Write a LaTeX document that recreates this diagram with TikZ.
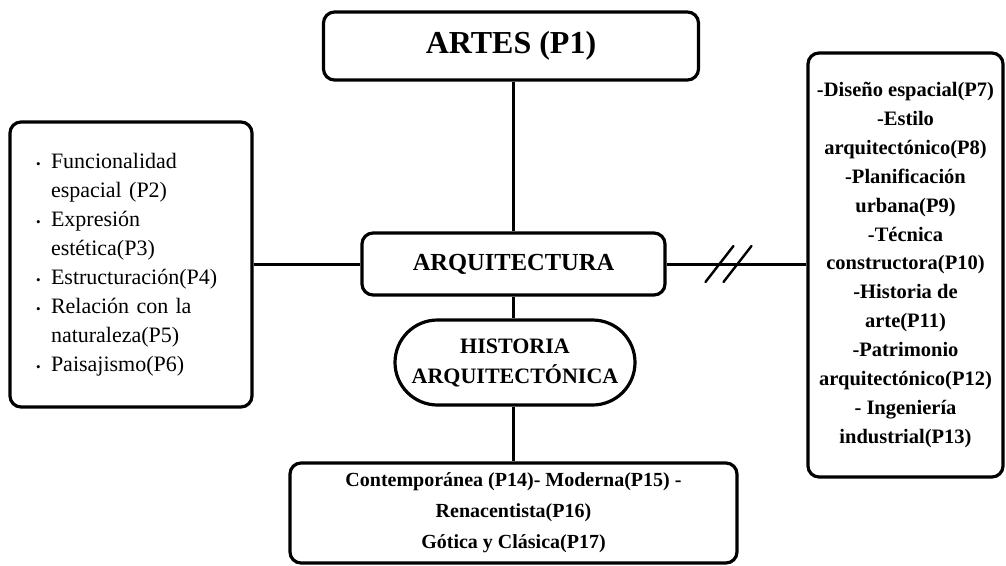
\documentclass[tikz,border=0pt]{standalone}
\usepackage{fontspec}
\setmainfont{Liberation Serif}
\usetikzlibrary{shapes.misc,calc}
\tikzset{
  box/.style={draw=black, line width=3.2pt, rounded corners=11pt, inner sep=0pt, align=center},
  conn/.style={draw=black, line width=3pt},
  slash/.style={draw=black, line width=2.4pt, line cap=round},
}
\newcommand{\bul}{\makebox[15pt][l]{\fontsize{13}{13}\selectfont •}}
\begin{document}
\begin{tikzpicture}[x=1pt,y=-1pt]
\useasboundingbox (0,0) rectangle (1006,565);
% nodes
\node[box, minimum width=375pt, minimum height=68pt,
      font={\fontsize{32}{36}\selectfont\bfseries}] (artes) at (511,46)
  {ARTES (P1)};
\node[box, minimum width=303pt, minimum height=62pt,
      font={\fontsize{24.5}{28}\selectfont\bfseries}] (arq) at (513.5,264)
  {ARQUITECTURA};
\node[draw=black, line width=3.2pt, rounded rectangle, inner sep=0pt, align=center,
      minimum width=240pt, minimum height=85pt,
      font={\fontsize{22}{30}\selectfont\bfseries}] (hist) at (515,362.5)
  {HISTORIA\\ARQUITECTÓNICA};
\node[box, minimum width=447pt, minimum height=100pt,
      font={\fontsize{20}{31}\selectfont\bfseries}] (bottom) at (513.5,513)
  {Contemporánea (P14)- Moderna(P15) -\\Renacentista(P16)\\Gótica y Clásica(P17)};
\node[box, minimum width=242pt, minimum height=285pt, align=left, text width=190pt,
      font={\fontsize{22}{29}\selectfont}] (left) at (131,264.5)
  {\bul Funcionalidad\\
   \hspace*{15pt}espacial (P2)\\
   \bul Expresión\\
   \hspace*{15pt}estética(P3)\\
   \bul Estructuración(P4)\\
   \bul Relación con la\\
   \hspace*{15pt}naturaleza(P5)\\
   \bul Paisajismo(P6)};
\node[box, minimum width=195pt, minimum height=424pt,
      font={\fontsize{20.5}{28.9}\selectfont\bfseries}] (right) at (905.5,265)
  {-Diseño espacial(P7)\\-Estilo\\arquitectónico(P8)\\-Planificación\\urbana(P9)\\-Técnica\\constructora(P10)\\-Historia de\\arte(P11)\\-Patrimonio\\arquitectónico(P12)\\- Ingeniería\\industrial(P13)};
% connectors
\draw[conn] (arq.north) -- (arq.north |- artes.south);
\draw[conn] (arq.south) -- (arq.south |- hist.north);
\draw[conn] (hist.south -| arq.south) -- (arq.south |- bottom.north);
\draw[conn] (left.east |- arq.west) -- (arq.west);
\draw[conn] (arq.east) -- (right.west |- arq.east)
  coordinate[pos=0.378] (s1) coordinate[pos=0.507] (s2);
\draw[slash] ($(s1)+(-14,18)$) -- ($(s1)+(14,-18)$);
\draw[slash] ($(s2)+(-14,18)$) -- ($(s2)+(14,-18)$);
\end{tikzpicture}
\end{document}
